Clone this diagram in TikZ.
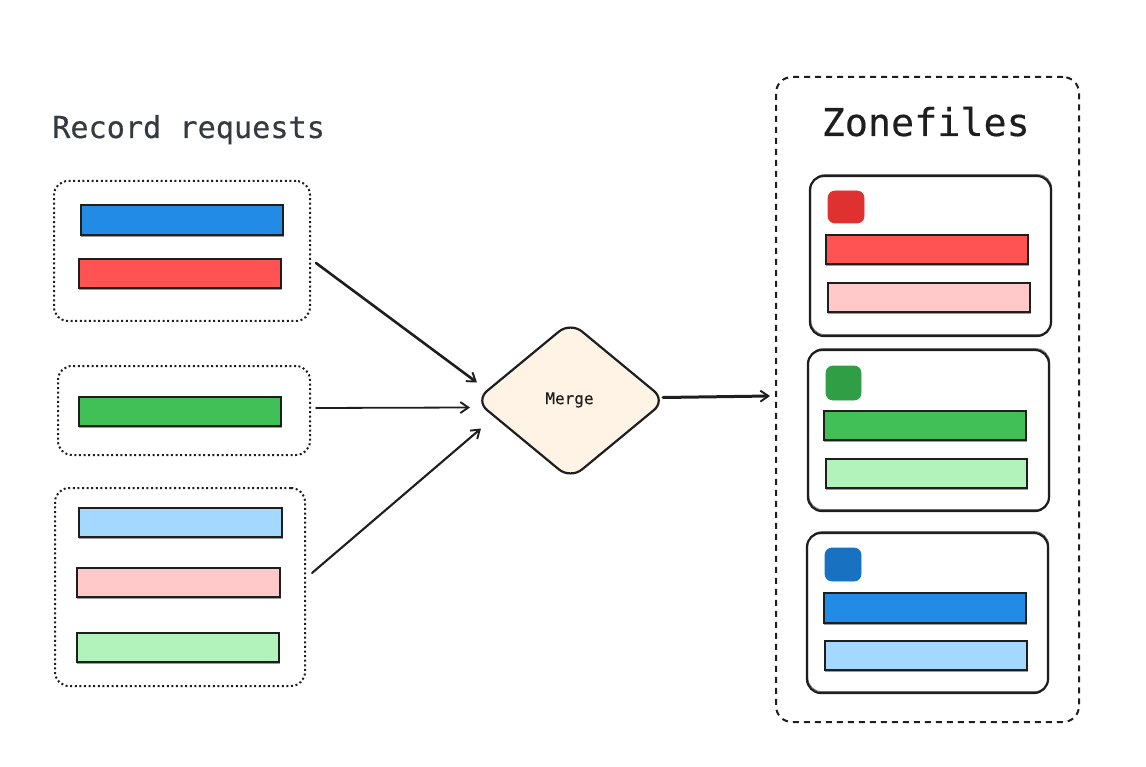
\documentclass[tikz,border=0pt]{standalone}
\usepackage{fontspec}
\setmonofont{DejaVu Sans Mono}
\newfontfamily\sketchfont[FakeBold=0.35]{DejaVu Sans Mono}
\usetikzlibrary{shapes.geometric,arrows.meta}
\definecolor{cBlue}{HTML}{228BE6}
\definecolor{cRed}{HTML}{FF5252}
\definecolor{cGreen}{HTML}{40C057}
\definecolor{cLBlue}{HTML}{A5D8FF}
\definecolor{cPink}{HTML}{FFC9C9}
\definecolor{cLGreen}{HTML}{B2F2BB}
\definecolor{cDRed}{HTML}{E03131}
\definecolor{cDGreen}{HTML}{2F9E44}
\definecolor{cDBlue}{HTML}{1971C2}
\definecolor{cInk}{HTML}{1E1E1E}
\definecolor{cSlate}{HTML}{343A40}
\definecolor{cCream}{HTML}{FFF3E6}
\newcommand{\rbox}[6]{\node[#6, minimum width={(#4-#2)*1pt}, minimum height={(#5-#3)*1pt}] (#1) at ({(#2+#4)/2},{(#3+#5)/2}) {};}
\tikzset{
  allbox/.style={rectangle, inner sep=0pt, outer sep=0pt, draw=cInk},
  dotbox/.style={allbox, rounded corners=14pt, line width=2pt, dash pattern=on 2pt off 2.6pt},
  dashbox/.style={allbox, rounded corners=16pt, line width=2pt, dash pattern=on 6pt off 5pt},
  card/.style={allbox, rounded corners=14pt, line width=2.2pt,
    preaction={draw=cInk!60, line width=.8pt, transform canvas={shift={(0.8pt,1.4pt)}}}},
  barbox/.style={allbox, fill=#1, line width=1.1pt,
    preaction={draw=cInk!45, line width=.7pt, transform canvas={shift={(0.5pt,-1.2pt)}}}},
  chip/.style={rectangle, inner sep=0pt, outer sep=0pt, rounded corners=7pt, fill=#1, draw=#1, line width=.8pt},
  conn/.style={draw=cInk, line cap=round, -{Straight Barb[length=8pt,width=11pt,line width=1.9pt]}},
  title/.style={inner sep=0pt, anchor=base west},
}
\begin{document}
\begin{tikzpicture}[x=1pt,y=-1pt]
\useasboundingbox (0,0) rectangle (1146,767);
\node[title, text=cSlate, font=\sketchfont\fontsize{30.2}{30}\selectfont] (rr) at (52,138) {Record requests};
\node[title, text=cInk, font=\sketchfont\fontsize{38.4}{38}\selectfont] (zf) at (821.5,136) {Zonefiles};
% left groups
\rbox{g1}{54}{181}{310}{321}{dotbox}
\rbox{g2}{58}{366}{310}{455}{dotbox}
\rbox{g3}{55}{488}{305}{686}{dotbox}
\rbox{b1}{81}{205}{283}{235}{barbox=cBlue}
\rbox{b2}{79}{259}{281}{288}{barbox=cRed}
\rbox{b3}{79}{397}{281}{426}{barbox=cGreen}
\rbox{b4}{79}{508}{282}{537}{barbox=cLBlue}
\rbox{b5}{77}{568}{280}{597}{barbox=cPink}
\rbox{b6}{77}{633}{279}{662}{barbox=cLGreen}
% merge
\node[diamond, draw=cInk, fill=cCream, line width=2.2pt, inner sep=0pt, outer sep=0pt, rounded corners=15pt,
  minimum width=190pt, minimum height=157pt] (merge) at (570.5,400.5) {};
\node[font=\sketchfont\fontsize{16}{16}\selectfont, text=cInk, inner sep=0pt] (mt) at (569.5,400) {Merge};
% right group
\rbox{zone}{776}{77}{1079}{722}{dashbox}
\rbox{c1}{810}{176}{1051}{336}{card}
\rbox{c2}{808}{350}{1049}{511}{card}
\rbox{c3}{807}{533}{1048}{693}{card}
\rbox{s1}{828}{191}{864}{223}{chip=cDRed}
\rbox{s2}{826}{366}{861}{400}{chip=cDGreen}
\rbox{s3}{825}{548}{861}{581}{chip=cDBlue}
\rbox{r1}{826}{235}{1028}{264}{barbox=cRed}
\rbox{r2}{828}{283}{1030}{312}{barbox=cPink}
\rbox{r3}{824}{411}{1026}{440}{barbox=cGreen}
\rbox{r4}{826}{459}{1027}{488}{barbox=cLGreen}
\rbox{r5}{824}{593}{1026}{623}{barbox=cBlue}
\rbox{r6}{825}{641}{1027}{670}{barbox=cLBlue}
% connectors
\draw[conn, line width=2.6pt] ([shift={(6,12)}]g1.east) -- ([shift={(-93.5,-18)}]merge.center);
\draw[conn, line width=1.8pt] ([shift={(6,-2.5)}]g2.east) -- ([shift={(-100.5,7)}]merge.center);
\draw[conn, line width=2.1pt] ([shift={(7,-14)}]g3.east) -- ([shift={(-89.5,28)}]merge.center);
\draw[conn, line width=3pt] ([shift={(92.5,-3)}]merge.center) -- ([shift={(-6,-3.5)}]zone.west);
\end{tikzpicture}
\end{document}
